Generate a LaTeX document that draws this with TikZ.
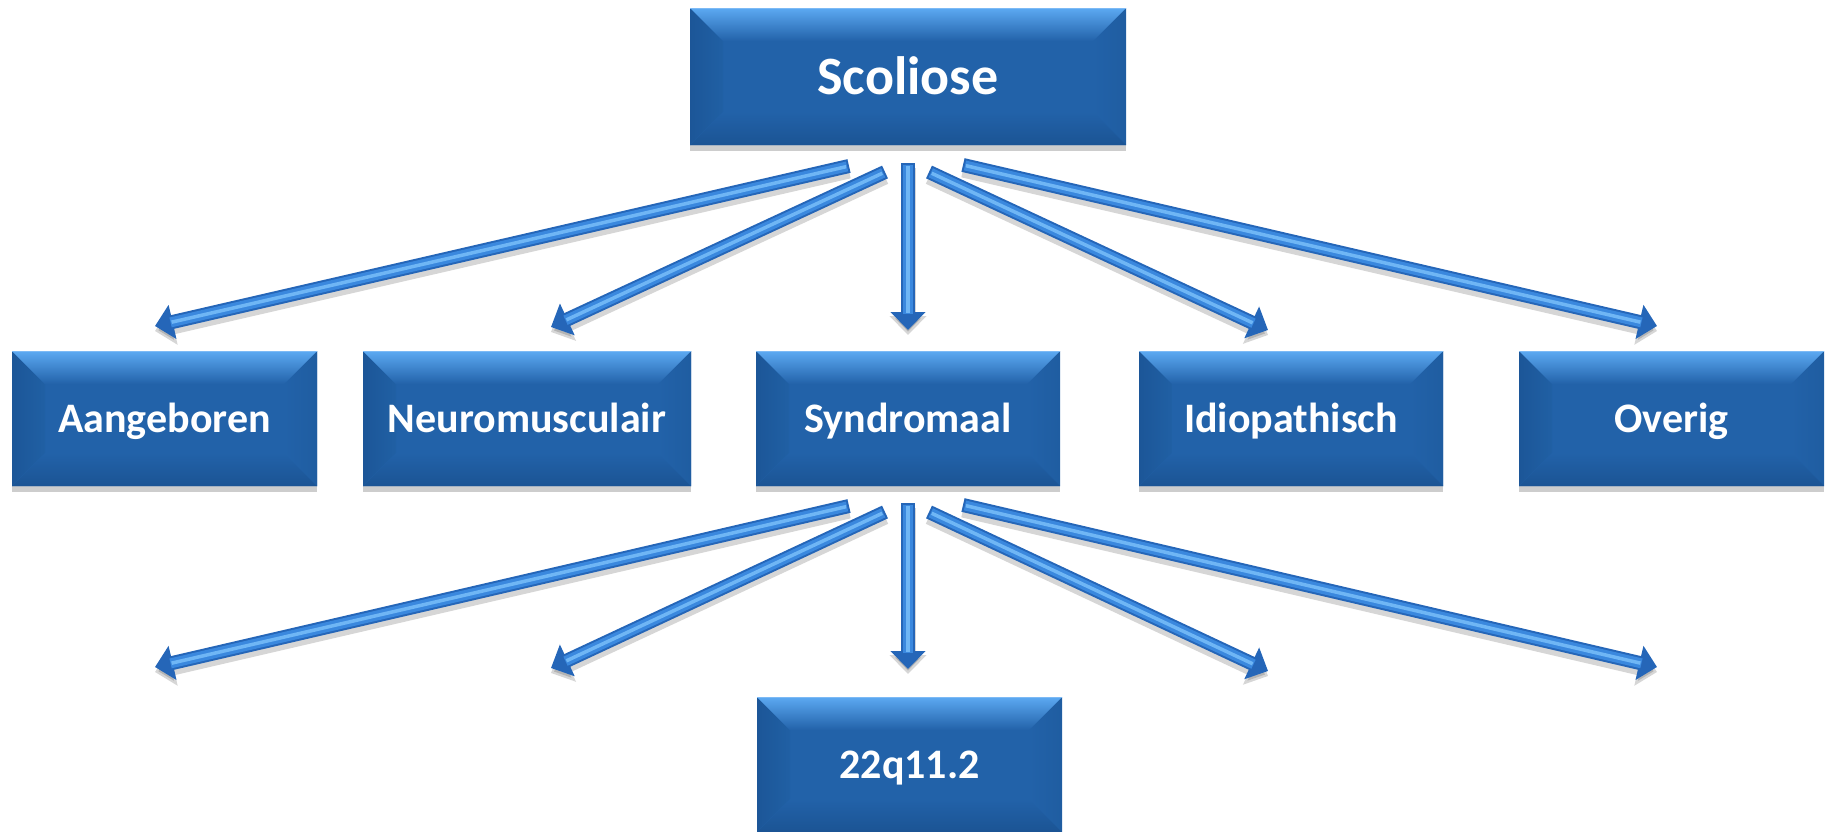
\documentclass[tikz,border=0pt]{standalone}
\usepackage{fontspec}
\setmainfont{Carlito}
\usetikzlibrary{arrows.meta,shadows,calc}
\definecolor{face}{HTML}{2262A9}
\definecolor{bevtop}{HTML}{5CA9F2}
\definecolor{bevleft}{HTML}{1C5698}
\definecolor{bevleftb}{HTML}{2060A4}
\definecolor{bevright}{HTML}{1F5DA1}
\definecolor{bevbot}{HTML}{1B5494}
\definecolor{arrdark}{HTML}{2566B8}
\definecolor{arrmid}{HTML}{3A88DE}
\definecolor{arrlight}{HTML}{6FB6F5}
\tikzset{
  bevelbox/.style={rectangle, inner sep=0pt, fill=face, draw=none,
    text=white, font=\bfseries\fontsize{42}{46}\selectfont,
    text height=27pt, text depth=0pt,
    drop shadow={shadow xshift=0pt, shadow yshift=-6pt, opacity=.28, fill=black!70},
    path picture={
      \coordinate (pNW) at (path picture bounding box.north west);
      \coordinate (pNE) at (path picture bounding box.north east);
      \coordinate (pSW) at (path picture bounding box.south west);
      \coordinate (pSE) at (path picture bounding box.south east);
      \fill[left color=bevleft, right color=bevleftb] (pNW) -- ($(pNW)+(33pt,-33pt)$) -- ($(pSW)+(33pt,33pt)$) -- (pSW) -- cycle;
      \fill[left color=face, right color=bevright] (pNE) -- ($(pNE)+(-33pt,-33pt)$) -- ($(pSE)+(-33pt,33pt)$) -- (pSE) -- cycle;
      \fill[top color=face, bottom color=bevbot] (pSW) -- ($(pSW)+(33pt,33pt)$) -- ($(pSE)+(-33pt,33pt)$) -- (pSE) -- cycle;
      \fill[top color=bevtop, bottom color=face] (pNW) -- (pNE) -- ($(pNE)+(-33pt,-33pt)$) -- ($(pNW)+(33pt,-33pt)$) -- cycle;
      \draw[bevtop!80!white, line width=1.5pt] (pNW) -- (pNE);
    }},
  rowbox/.style={bevelbox, minimum height=135pt},
  blockarrow/.style={line width=14pt, draw=arrdark, line cap=butt,
    -{Triangle[length=18pt,width=34pt]},
    postaction={draw=arrmid, line width=10pt, -, shorten >=16pt, shorten <=2pt},
    postaction={draw=arrlight, line width=3.5pt, -, shorten >=17pt, shorten <=3pt}},
  arrowshadow/.style={line width=15pt, draw=black, opacity=.16, line cap=butt,
    -{Triangle[length=19pt,width=36pt]}}
}
\begin{document}
\begin{tikzpicture}[x=1pt,y=-1pt]
\useasboundingbox (0,0) rectangle (1833,831);
% boxes
\node[bevelbox, minimum width=436pt, minimum height=137pt, text height=35pt,
  font=\bfseries\fontsize{54}{60}\selectfont] (sco) at (908,76.5) {Scoliose};
\node[rowbox, minimum width=305pt] (aan) at (164.5,418.5) {Aangeboren};
\node[rowbox, minimum width=328pt] (neu) at (527,418.5) {Neuromusculair};
\node[rowbox, minimum width=304pt] (syn) at (908,418.5) {Syndromaal};
\node[rowbox, minimum width=304pt] (idi) at (1291,418.5) {Idiopathisch};
\node[rowbox, minimum width=305pt] (ove) at (1671.5,418.5) {Overig};
\node[rowbox, minimum width=305pt] (q22) at (909.5,764.5) {22q11.2};
% arrow end points
\coordinate (s1) at (849,166); \coordinate (t1) at (155,326);
\coordinate (s2) at (885,172); \coordinate (t2) at (551,327);
\coordinate (s3) at (908,163); \coordinate (t3) at (908,330);
\coordinate (s4) at (929,172); \coordinate (t4) at (1268,330);
\coordinate (s5) at (963,165); \coordinate (t5) at (1657,326);
\coordinate (u1) at (849,506); \coordinate (v1) at (155,667);
\coordinate (u2) at (885,512); \coordinate (v2) at (551,668);
\coordinate (u3) at (908,503); \coordinate (v3) at (908,669);
\coordinate (u4) at (929,512); \coordinate (v4) at (1268,671);
\coordinate (u5) at (963,505); \coordinate (v5) at (1657,667);
% shadows
\foreach \a/\b in {s1/t1,s2/t2,s3/t3,s4/t4,s5/t5,u1/v1,u2/v2,u3/v3,u4/v4,u5/v5}
  \draw[arrowshadow] ([yshift=-5pt]\a) -- ([yshift=-5pt]\b);
% arrows
\foreach \a/\b in {s1/t1,s2/t2,s3/t3,s4/t4,s5/t5,u1/v1,u2/v2,u3/v3,u4/v4,u5/v5}
  \draw[blockarrow] (\a) -- (\b);
\end{tikzpicture}
\end{document}
